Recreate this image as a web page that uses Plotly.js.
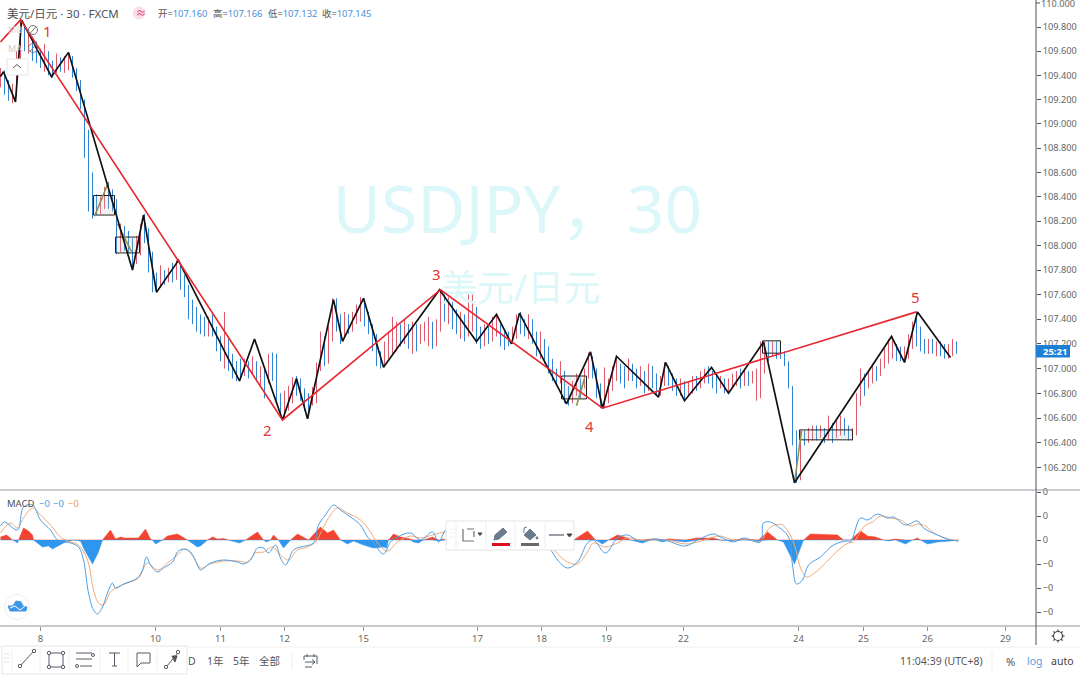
<!DOCTYPE html>
<html>
<head>
<meta charset="utf-8">
<script src="https://cdn.plot.ly/plotly-3.0.1.min.js"></script>
<style>html,body{margin:0;padding:0;background:#fff}#chart{width:1080px;height:675px}</style>
</head>
<body>
<div id="chart"></div>
<script>
// ---------- data (30-minute USDJPY session, one entry per drawn bar) ----------
const barClose = [
109.40,109.34,109.25,109.30,109.58,109.78,109.66,109.68,109.62,109.58,
109.55,109.60,109.47,109.45,109.53,109.46,109.52,109.55,109.44,109.34,
109.18,108.95,108.55,108.33,108.30,108.34,108.44,108.36,108.35,108.10,
108.14,108.02,107.98,107.88,108.00,108.16,108.14,107.92,107.72,107.68,
107.76,107.74,107.80,107.76,107.84,107.72,107.66,107.50,107.42,107.38,
107.34,107.32,107.36,107.30,107.22,107.12,107.15,107.10,107.00,106.98,
106.96,107.02,106.99,107.04,106.94,106.95,106.92,107.00,106.98,106.80,
106.66,106.72,106.78,106.88,106.85,106.82,106.76,106.74,106.78,106.82,
107.12,107.10,107.28,107.50,107.46,107.28,107.36,107.34,107.40,107.44,
107.50,107.42,107.34,107.22,107.12,107.06,107.14,107.20,107.24,107.30,
107.24,107.30,107.26,107.34,107.26,107.28,107.32,107.38,107.26,107.32,
107.52,107.48,107.54,107.44,107.36,107.42,107.32,107.38,107.46,107.30,
107.24,107.30,107.26,107.34,107.34,107.26,107.24,107.22,107.26,107.38,
107.36,107.34,107.36,107.28,107.20,107.22,107.14,107.04,106.98,106.92,
106.98,106.78,106.76,106.82,106.88,106.84,106.92,107.04,107.00,106.86,
106.74,106.76,106.82,106.96,107.04,106.96,106.94,107.02,106.98,106.92,
106.96,106.88,106.94,106.92,106.84,106.88,106.98,106.94,106.88,106.84,
106.86,106.80,106.84,106.90,106.88,106.92,106.96,106.94,106.90,106.86,
106.90,106.84,106.86,106.92,106.94,106.90,106.96,106.92,106.94,106.96,
106.98,107.18,107.14,107.18,107.14,107.12,107.08,106.88,106.50,106.16,
106.46,106.42,106.46,106.50,106.46,106.50,106.44,106.52,106.48,106.52,
106.56,106.52,106.46,106.48,106.70,106.90,106.86,106.92,106.98,106.96,
107.04,107.10,107.16,107.18,107.12,107.10,107.12,107.22,107.32,107.30,
107.18,107.14,107.20,107.16,107.18,107.14,107.12,107.16,107.20,107.15];
const barHigh = [
109.46,109.44,109.36,109.33,109.60,109.87,109.80,109.75,109.72,109.68,
109.62,109.66,109.60,109.52,109.58,109.55,109.56,109.59,109.56,109.46,
109.36,109.20,108.95,108.60,108.42,108.40,108.48,108.52,108.46,108.38,
108.18,108.16,108.12,108.06,108.08,108.18,108.26,108.14,107.95,107.78,
107.84,107.80,107.82,107.86,107.88,107.84,107.76,107.68,107.56,107.50,
107.44,107.42,107.42,107.44,107.34,107.26,107.46,107.24,107.12,107.06,
107.08,107.08,107.06,107.10,107.06,107.02,107.00,107.12,107.13,107.12,
106.80,106.82,106.86,106.93,106.94,106.92,106.84,106.80,106.85,107.05,
107.30,107.26,107.34,107.57,107.57,107.44,107.46,107.44,107.46,107.52,
107.58,107.56,107.46,107.36,107.28,107.14,107.22,107.30,107.42,107.38,
107.36,107.40,107.36,107.38,107.36,107.36,107.38,107.42,107.38,107.40,
107.64,107.60,107.58,107.54,107.48,107.46,107.44,107.60,107.60,107.50,
107.34,107.36,107.34,107.42,107.44,107.36,107.30,107.30,107.34,107.44,
107.46,107.40,107.44,107.40,107.30,107.30,107.24,107.18,107.08,107.00,
107.06,106.98,106.86,106.90,106.96,106.92,107.00,107.13,107.10,107.00,
106.88,107.01,106.92,107.02,107.10,107.04,107.02,107.08,107.04,107.00,
107.02,106.98,107.04,107.02,106.96,106.94,107.05,107.02,106.96,106.92,
106.92,106.90,106.90,106.94,106.94,106.98,107.00,107.02,106.98,106.94,
106.94,106.92,106.92,106.96,106.98,107.00,107.00,106.98,106.98,107.00,
107.22,107.22,107.22,107.22,107.22,107.18,107.14,107.06,106.86,106.50,
106.50,106.50,106.52,106.54,106.54,106.54,106.52,106.62,106.56,106.58,
106.62,106.60,106.54,106.52,106.80,107.00,106.96,106.98,107.04,107.02,
107.08,107.16,107.24,107.26,107.20,107.18,107.18,107.28,107.38,107.46,
107.34,107.24,107.24,107.24,107.22,107.22,107.20,107.20,107.24,107.22];
const barLow = [
109.30,109.24,109.19,109.17,109.22,109.50,109.60,109.58,109.52,109.50,
109.46,109.43,109.40,109.38,109.42,109.43,109.42,109.44,109.38,109.27,
109.12,108.72,108.28,108.22,108.25,108.26,108.30,108.30,108.28,107.93,
107.95,107.96,107.94,107.80,107.85,107.92,108.02,107.78,107.62,107.62,
107.66,107.68,107.70,107.70,107.72,107.64,107.58,107.40,107.36,107.30,
107.28,107.26,107.26,107.26,107.14,107.06,107.00,106.98,106.92,106.90,
106.92,106.94,106.92,106.96,106.90,106.86,106.76,106.88,106.90,106.74,
106.60,106.59,106.66,106.72,106.78,106.74,106.66,106.60,106.70,106.72,
106.98,107.02,107.04,107.22,107.30,107.20,107.24,107.28,107.30,107.36,
107.38,107.34,107.28,107.14,107.02,107.00,107.02,107.08,107.12,107.14,
107.18,107.20,107.16,107.12,107.14,107.20,107.22,107.18,107.16,107.18,
107.30,107.38,107.36,107.32,107.28,107.24,107.22,107.26,107.30,107.20,
107.16,107.18,107.20,107.22,107.26,107.18,107.15,107.18,107.20,107.24,
107.28,107.26,107.24,107.20,107.10,107.08,107.04,106.96,106.90,106.86,
106.88,106.72,106.70,106.72,106.78,106.76,106.84,106.92,106.92,106.76,
106.68,106.68,106.72,106.82,106.90,106.88,106.84,106.90,106.90,106.84,
106.86,106.80,106.82,106.84,106.78,106.78,106.86,106.86,106.82,106.78,
106.78,106.74,106.78,106.80,106.82,106.84,106.88,106.88,106.84,106.80,
106.84,106.80,106.80,106.84,106.86,106.84,106.86,106.86,106.88,106.74,
106.76,106.96,107.06,107.10,107.08,107.08,107.02,106.84,106.38,106.08,
106.10,106.38,106.40,106.42,106.42,106.44,106.40,106.42,106.40,106.44,
106.46,106.46,106.42,106.42,106.46,106.70,106.78,106.84,106.88,106.90,
106.94,107.00,107.04,107.08,107.06,107.06,107.05,107.08,107.16,107.18,
107.14,107.12,107.12,107.12,107.10,107.10,107.08,107.08,107.10,107.12];

const blackBars = [0,0.75,3.75,5.25,12.75,17,33,35.75,39,44.5,59.75,63.5,70.5,74,76.75,83.25,85.5,90.75,95.75,109.75,119,124,127.75,129.75,141.5,147.5,150.5,154,164.5,166.25,171,177.75,182,190.75,198.5,222.75,226,229.25,237.5];
const blackPrices = [109.39,109.43,109.18,109.86,109.39,109.59,107.80,108.25,107.62,107.88,106.90,107.24,106.585,106.92,106.595,107.56,107.22,107.57,107.01,107.64,107.22,107.44,107.20,107.45,106.715,107.135,106.68,107.10,106.77,107.05,106.74,107.01,106.80,107.215,106.08,107.26,107.05,107.46,107.09];
const redBars = [0,5,70.5,110,150.5,229];
const redPrices = [109.676,109.86,106.585,107.64,106.68,107.46];

const boxBarFrom = [23.25,28.75,140.25,190.5,199.75];
const boxBarTo = [28.5,34.75,146.5,195,213];
const boxTop = [108.41,108.07,106.94,107.225,106.505];
const boxBottom = [108.25,107.94,106.755,107.125,106.425];

const accentBars = [23.5,27,null,29.25,32.75,null,144,146,null,198.5,200.25];
const accentPrices = [108.24,108.52,null,108.18,107.95,null,106.70,106.92,null,106.08,106.50];

const macdBars = [0,1,4.25,5.75,8,10,12.5,14.25,16.75,19.5,20.75,22,23.25,24.25,25.5,26.75,28,28.75,30.75,34.25,35.5,36.5,37.5,39.25,40.75,43,44.25,45.75,47.5,49.25,50,52.5,55.75,59.25,60.75,62.5,64.25,65.75,67,68.75,70,71.25,73.25,75,78.25,79.5,81.25,83.25,85,87.5,90,91.75,93.25,95.75,97.5,99.25,102.5,105,108,109.5,111.25,112.5,117.5,122.5,127.5,132.5,136.25,137.5,139.25,141.75,144.25,146.75,148.25,151.25,154.25,156.75,160,163.25,166.75,171.25,174.25,178.25,180,183.25,185.75,190,190.75,192.5,194.5,197,198,199,200.5,202,205,208.25,211.75,212.5,215,216.75,219.25,221.75,223.25,226.25,229.25,230.75,234.25,237.5,239.5];
const macdValues = [14,18,10,33,35,20,10,0,-2,-7,-20,-53,-70,-74,-67,-53,-43,-48,-44,-38,-30,-17,-25,-32,-28,-22,-12,-9,-12,-25,-30,-23,-20,-22,-24,-20,-8,-8,-13,-5,-18,-25,-10,-7,-3,15,25,35,30,23,15,3,-3,-14,-2,3,7,0,8,-2,10,12,10,5,-2,-5,-8,-10,-20,-28,-22,-3,0,-13,2,5,-2,1,-1,-6,0,6,3,-2,2,-2,17,18,13,3,-25,-44,-40,-25,-17,-5,-1,-2,22,20,26,22,23,15,19,12,5,0,-1];
const signalBars = [0,2.5,4.25,5.75,8,10,12.5,15,16.75,19.5,21.75,23.25,24.5,25.75,27.5,29.25,31.75,34.5,36.75,39.25,41.75,44.25,46.25,48.25,50,52.5,55.75,59.25,61.75,63.75,65.75,68,70,72,74.25,76.75,78.75,80.75,82.5,84.25,86.75,90,92.5,94.25,96.75,99.25,102.5,105,108,111.25,117.5,122.5,127.5,132.5,137.5,139.25,141.75,144.25,146.75,148.25,151.25,154.25,156.75,160,163.25,166.75,171.25,174.25,178.25,180,183.25,185.75,190,191.75,193.5,195.5,197,198.5,200,201.5,203.5,206.5,209.5,212,213.25,216,218,220,222.5,225,227.5,229.25,231.25,233,236,239.5];
const signalValues = [7,17,12,22,32,25,15,3,-1,-5,-20,-50,-63,-65,-52,-47,-43,-38,-23,-30,-23,-15,-9,-17,-28,-24,-21,-21,-22,-13,-12,-7,-15,-20,-10,-7,-2,13,25,32,27,20,8,-3,-11,-2,4,2,5,8,8,5,0,-3,-6,-14,-22,-24,-12,-3,-7,-3,2,0,0,0,-4,-2,3,4,0,1,-1,10,15,15,8,-5,-28,-37,-33,-22,-10,-3,-2,14,18,24,22,20,14,16,14,8,2,-1];
const histBars = [0,1.5,2.75,3,3.5,4.25,4.5,5.75,7,8,8.25,10.5,12,13,15.75,18,20,21,23,24.5,25.5,27.5,28.75,30,31,32.5,34.5,36.25,37.5,38,38.75,40.5,41.75,44.25,46.75,49.25,50,51.75,53,54.25,55.75,57,59.75,61.25,64.25,65.75,66.5,67.5,68.25,69.5,70.75,72.5,74.25,77,80,81.75,83.25,85,86.75,88.25,90.75,93.25,95.75,96.5,97,98.25,100,102.5,103.25,104.5,105.75,108,109.5,110.75,111.25,113,118,123,128,133,138,143.25,146.75,148.75,150.5,152,154.25,156.75,157.5,160.5,162.5,163.75,165.5,167,171.25,174.25,178.25,180,183,185.75,189.5,191.75,194.25,195.75,198.5,200.75,202.5,209.25,210.75,212.5,215,216.75,218.75,220.75,222,223.75,226.25,228,229.25,230,231.75,234.25,237.5,239.5];
const histValues = [3,5,1,0,-1,-3,0,12,9,5,0,-7,-6,-9,-3,0,-1,-10,-24,-12,0,10,1,3,2,2,2,11,1,0,-4,0,4,6,0,-7,-6,0,3,1,1.5,0,-3,0,8,0,-2,0,5,0,-8,0,6,0,13,7,10,0,-4,-1,-5,-8,-7,-8,0,6,3,1,-2,-3,0,3,-1,1,0,2,1,-2,2,-3,-1,0,9,0,-4,0,5,2,0,-3,1,1,-2,1,-2,2,2,0,-1,1,-1,8,0,-2,-24,0,6,5,0,0,9,4,3,0,-1,1,-4,0,2,0,-4,-2,-1,0];

const dayLabels = ['8','10','11','12','15','17','18','19','22','24','25','26','29'];
const dayBars = [10,38.75,55,71,90.75,119.25,135.25,151.5,170.75,199.5,215.75,231.75,251.25];
const priceTicks = [109.8,109.6,109.4,109.2,109,108.8,108.6,108.4,108.2,108,107.8,107.6,107.4,107.2,107,106.8,106.6,106.4,106.2];
const macdTicks = [48,24,0,-24,-48,-72];
const macdTickLabels = ['0','0','0','\u22120','\u22120','\u22120'];

// ---------- page geometry ----------
const W = 1080, H = 675;
const fx = x => x / W, fy = y => 1 - y / H;
const FONT = '"Noto Sans","Noto Sans CJK SC",sans-serif';
const INK = '#555b66';

const barOpen = barClose.map((c, i) => i ? barClose[i - 1] : c);
const barPos = barClose.map((c, i) => i);

const boxX = [], boxY = [];
boxBarFrom.forEach((a, i) => {
  const b = boxBarTo[i], t = boxTop[i], u = boxBottom[i];
  boxX.push(a, b, b, a, a, null); boxY.push(t, t, u, u, t, null);
});

const traces = [
  {type:'scatter',mode:'text',x:[129.25],y:[108.24],text:['USDJPY，30'],textfont:{family:FONT,size:66,color:'#dcf7f9'},hoverinfo:'skip',cliponaxis:false},
  {type:'scatter',mode:'text',x:[130],y:[107.62],text:['美元/日元'],textfont:{family:FONT,size:36.5,color:'#dcf7f9'},hoverinfo:'skip',cliponaxis:false},
  {type:'ohlc',x:barPos,open:barOpen,high:barHigh,low:barLow,close:barClose,tickwidth:0.02,
   increasing:{line:{color:'#dd5a6c',width:1}},decreasing:{line:{color:'#2f84d4',width:1}},hoverinfo:'skip'},
  {type:'scatter',mode:'lines',x:boxX,y:boxY,fill:'toself',fillcolor:'rgba(190,190,190,0.22)',line:{color:'#222',width:1},hoverinfo:'skip'},
  {type:'scatter',mode:'lines',x:accentBars,y:accentPrices,line:{color:'#8a8f4a',width:1.5},hoverinfo:'skip'},
  {type:'scatter',mode:'lines',x:blackBars,y:blackPrices,line:{color:'#111',width:1.7},hoverinfo:'skip'},
  {type:'scatter',mode:'lines',x:redBars,y:redPrices,line:{color:'#e8262f',width:1.6},hoverinfo:'skip'},
  {type:'scatter',mode:'lines',x:histBars,y:histValues.map(v=>Math.max(v,0)),yaxis:'y2',fill:'tozeroy',fillcolor:'#f4432f',line:{color:'#f4432f',width:0.5},hoverinfo:'skip'},
  {type:'scatter',mode:'lines',x:histBars,y:histValues.map(v=>Math.min(v,0)),yaxis:'y2',fill:'tozeroy',fillcolor:'#2f96ee',line:{color:'#2f96ee',width:0.5},hoverinfo:'skip'},
  {type:'scatter',mode:'lines',x:signalBars,y:signalValues,yaxis:'y2',line:{color:'#f2a877',width:1,shape:'spline'},hoverinfo:'skip'},
  {type:'scatter',mode:'lines',x:macdBars,y:macdValues,yaxis:'y2',line:{color:'#4a9fe6',width:1,shape:'spline'},hoverinfo:'skip'}
];

// ---------- chrome ----------
const shapes = [];
const rect = (x0,y0,x1,y1,fill,line,lw) => shapes.push({type:'rect',xref:'paper',yref:'paper',x0:fx(x0),x1:fx(x1),y0:fy(y0),y1:fy(y1),fillcolor:fill||'rgba(0,0,0,0)',line:{color:line||'rgba(0,0,0,0)',width:lw===undefined?1:lw},layer:'above'});
const seg = (x0,y0,x1,y1,color,lw) => shapes.push({type:'line',xref:'paper',yref:'paper',x0:fx(x0),x1:fx(x1),y0:fy(y0),y1:fy(y1),line:{color:color||INK,width:lw||1},layer:'above'});
const circ = (cx,cy,r,fill,line,lw) => shapes.push({type:'circle',xref:'paper',yref:'paper',x0:fx(cx-r),x1:fx(cx+r),y0:fy(cy-r),y1:fy(cy+r),fillcolor:fill||'rgba(0,0,0,0)',line:{color:line||INK,width:lw===undefined?1:lw},layer:'above'});
const path = (d,fill,line,lw) => shapes.push({type:'path',xref:'paper',yref:'paper',path:d.replace(/(-?[\d.]+) (-?[\d.]+)/g,(m,a,b)=>fx(+a)+' '+fy(+b)),fillcolor:fill||'rgba(0,0,0,0)',line:{color:line||INK,width:lw===undefined?1:lw},layer:'above'});

seg(0,490,1080,490,'#9a9ea6',1.2);
seg(0,626,1080,626,'#8f939b',1.2);
seg(1036,0,1036,645,'#50535e',1);
seg(0,647,1080,647,'#f0f0f0',1);
seg(1036,3,1040,3,'#50535e',1);

// price tag
rect(1036,345,1070,357.5,'#1e7fd6',null,0);

// pane buttons top-left
rect(7,59,28,75,'#ffffff','#e6e6e6',1);
path('M 13 68 L 17 64.5 L 21 68',null,'#555',1);
circ(33,30,4.5,null,'#777',1); seg(30,33.5,36,26.5,'#777',1);
circ(33,48,4.5,null,'#777',1); seg(30,51.5,36,44.5,'#777',1);
circ(139,13,6.5,'#fbdfe9',null,0);
// logo
circ(17,607,12.5,'#ffffff','#f6ece4',1);
path('M 10 611 L 8 606 L 13 606 L 16 601 L 21 602 L 23 606 L 27 607 L 26 611 Z','#3d97e8','#3d97e8',1);
path('M 10 608 L 15 606 L 20 610 L 25 606',null,'#ffffff',1);

// bottom-left floating drawing toolbar
rect(2,646,187,674,'#ffffff','#e6e6e6',1);
[12,40,69,100,128,157].forEach(x=>seg(x,649,x,671,'#eeeeee',1));
[[5,654],[8,654],[5,658],[8,658],[5,662],[8,662]].forEach(p=>circ(p[0],p[1],0.7,'#c9c9c9','#c9c9c9',0));
seg(21,665,33,652); circ(20,666,1.7,'#fff'); circ(34,651,1.7,'#fff');
rect(49,653,63,667,null,INK,1);
[[49,653],[63,653],[49,667],[63,667]].forEach(p=>circ(p[0],p[1],1.7,'#fff'));
seg(76,653,92,653); seg(76,659,92,659); seg(80,666,92,666);
circ(93,655,1.5,'#fff'); circ(77,666,1.5,'#fff');
seg(109,653,120,653); seg(114.5,653,114.5,666); seg(112,666,117,666);
path('M 137 653 L 150 653 L 150 663 L 141 663 L 137 667 Z');
seg(167,666,177,654); circ(166,667,1.7,'#fff'); circ(178,652,1.7,'#fff');
path('M 172 656 L 177 656 L 175 662 Z','#555','#555',1);

// bottom range bar glyphs
seg(292,652,292,670,'#eeeeee',1);
path('M 304 656 L 317 656 L 317 664 M 304 656 L 304 660 M 307 654 L 307 657 M 314 654 L 314 657 M 305 662 L 315 662 M 312 659.5 L 315 662 L 312 664.5 M 312 667 L 305 667');
seg(992,652,992,670,'#eeeeee',1);

// gear
circ(1058,636,4.5,null,'#444',1.2);
[[1058,629.5,1058,631.5],[1058,640.5,1058,642.5],[1051.5,636,1053.5,636],[1062.5,636,1064.5,636],[1053.4,631.4,1054.8,632.8],[1061.2,639.2,1062.6,640.6],[1053.4,640.6,1054.8,639.2],[1061.2,632.8,1062.6,631.4]].forEach(s=>seg(s[0],s[1],s[2],s[3],'#444',1.2));

// centre floating style toolbar
rect(446,521,574,550,'#ffffff','#e4e4e4',1);
[456,486,515,545].forEach(x=>seg(x,523,x,548,'#eeeeee',1));
[[451,529],[451,533],[451,537],[454,529],[454,533],[454,537]].forEach(p=>circ(p[0],p[1],0.6,'#cfcfcf','#cfcfcf',0));
path('M 463 529 L 463 541 L 474 541',null,'#6b7380',1.2);
path('M 467 529 L 474 529 M 474 531 L 474 537',null,'#6b7380',1.2);
path('M 478 533 L 482 533 L 480 535.5 Z','#444','#444',1);
path('M 494 540 L 495 535 L 503 528 L 507 532 L 499 539 Z','#6b7a8c','#6b7a8c',1);
rect(492,543,510,546,'#d8111a',null,0);
path('M 524 535 L 530 529 L 536 535 L 530 540 Z','#6b7a8c','#6b7a8c',1);
path('M 524 533 L 524 528 L 527 527',null,'#6b7a8c',1);
circ(537,538,1.4,'#6b7a8c','#6b7a8c',0);
rect(521,543,539,546,'#6a6a6a',null,0);
seg(549,535,564,535,'#6b7380',1.4);
path('M 567 534 L 572 534 L 569.5 537 Z','#444','#444',1);

const annotations = [];
const text = (x,y,t,size,color,extra) => annotations.push(Object.assign({xref:'paper',yref:'paper',x:fx(x),y:fy(y),text:t,showarrow:false,xanchor:'left',yanchor:'middle',font:{family:FONT,size:size,color:color},borderpad:0},extra||{}));
const blue = s => '<span style="color:#4a90d9">'+s+'</span>';

text(6,13,'美元/日元 · 30 · FXCM',11.5,'#4b4f58');
text(135,13,'≈',10,'#d6336c');
text(157,13,'开='+blue('107.160'),9.4,'#555');
text(212,13,'高='+blue('107.166'),9.4,'#555');
text(267,13,'低='+blue('107.132'),9.4,'#555');
text(321,13,'收='+blue('107.145'),9.4,'#555');
text(7,30,'MB',9,'#dddddd');
text(7,49,'MA',9,'#cccccc');
text(6,503,'MACD',9.5,'#4b4f58');
text(38,503,'−0',9.5,'#4a9fe6');
text(52,503,'−0',9.5,'#4a9fe6');
text(67,503,'−0',9.5,'#f2a060');

text(47,31,'1',15,'#e5353b',{xanchor:'center'});
text(267,430,'2',15,'#e5353b',{xanchor:'center'});
text(436,274,'3',15,'#e5353b',{xanchor:'center'});
text(589,426,'4',15,'#e5353b',{xanchor:'center'});
text(915,297,'5',15,'#e5353b',{xanchor:'center'});

text(1042,351,'<b>25:21</b>',9.5,'#ffffff');
text(1040,3.5,'110.000',9.2,'#666');

text(187,661,'D',10.5,'#555');
text(206,661,'1年',10.5,'#555');
text(232,661,'5年',10.5,'#555');
text(258,661,'全部',10.5,'#555');
text(899,661,'11:04:39 (UTC+8)',10.5,'#555');
text(1005,661,'%',11,'#555');
text(1026,661,'log',10.5,'#5b9bde');
text(1050,661,'auto',10.5,'#444');

const layout = {
  width:W,height:H,margin:{l:0,r:0,t:0,b:0},paper_bgcolor:'#fff',plot_bgcolor:'#fff',showlegend:false,
  font:{family:FONT,size:9.2,color:'#666'},
  xaxis:{domain:[0,1036/W],range:[-0.125,258.875],anchor:'y2',tickmode:'array',tickvals:dayBars,ticktext:dayLabels,ticks:'outside',ticklen:4,tickcolor:'#8f939b',showgrid:false,zeroline:false,showline:false,rangeslider:{visible:false},tickfont:{family:FONT,size:9.5,color:'#666'}},
  yaxis:{domain:[fy(490),1],type:'log',range:[Math.log10(106.022),Math.log10(110.025)],side:'right',anchor:'x',tickmode:'array',tickvals:priceTicks,ticktext:priceTicks.map(v=>v.toFixed(3)),ticks:'outside',ticklen:4,tickcolor:'#50535e',showgrid:false,zeroline:false,showline:false,tickfont:{family:FONT,size:9.2,color:'#666'}},
  yaxis2:{domain:[fy(626),fy(490)],range:[-86,50],side:'right',anchor:'x',tickmode:'array',tickvals:macdTicks,ticktext:macdTickLabels,ticks:'outside',ticklen:4,tickcolor:'#50535e',showgrid:false,zeroline:false,showline:false,tickfont:{family:FONT,size:9.2,color:'#666'}},
  shapes:shapes,annotations:annotations
};
Plotly.newPlot('chart',traces,layout,{displayModeBar:false,staticPlot:true});
</script>
</body>
</html>
